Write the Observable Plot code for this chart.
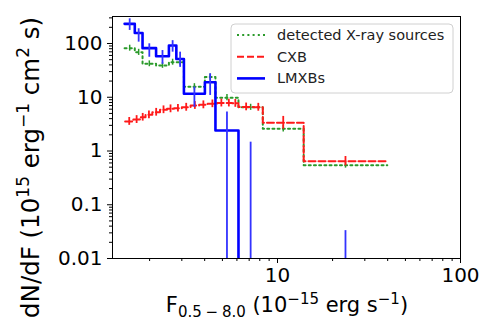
<!DOCTYPE html>
<html><head><meta charset="utf-8">
<script src="https://cdn.jsdelivr.net/npm/d3@7"></script>
<script src="https://cdn.jsdelivr.net/npm/@observablehq/plot@0.6"></script>
<style>body{margin:0;background:#fff;} svg{font-family:"DejaVu Sans";}</style>
</head><body><div id="chart"></div>
<script>
// Bin edges shared by LMXB and detected-source histograms (1e-15 erg/s)
const binEdges = [1.46, 1.66, 1.83, 2.17, 2.55, 2.80, 3.08, 4.01, 4.58, 6.12, 8.31, 13.9, 39.8];
const lmxbValues   = [232, 157, 82, 58, 92, 51.5, 11.6, 19, 2.4, 0, 0, 0];
const lmxbErrLow   = [175, 106, 55.5, 41, 69, 36, 6.5, 10.8, 0, 0, null, 0];
const lmxbErrHigh  = [288, 188, 98.7, 74, 113, 69, 15.5, 27.3, 5.3, 1.46, null, 0.033];
const detectedValues  = [82, 69, 42, 39, 45, 45, 15.6, 23.8, 9.8, 6.5, 2.6, 0.545];
const detectedErrLow  = [72, 60, 37, 34.5, 39.5, 39.5, 13.6, 20.8, 8.6, 5.7, 2.25, 0.48];
const detectedErrHigh = [93, 78, 47.5, 44, 51, 51, 17.9, 27.2, 11.2, 7.4, 3.0, 0.62];
// CXB model histogram (finer bins)
const cxbEdges  = [1.47, 1.63, 1.77, 1.90, 2.07, 2.28, 2.49, 2.72, 3.0, 3.35, 3.73, 4.15, 4.68, 5.2, 5.65, 6.12, 7.42, 8.31, 13.9, 39.8];
const cxbValues = [3.54, 3.86, 4.26, 4.71, 5.27, 5.84, 6.1, 6.25, 6.53, 7.03, 7.24, 7.55, 7.8, 7.8, 7.7, 6.6, 6.5, 3.35, 0.645];
const cxbErrLow  = [3.0, 3.25, 3.6, 4.0, 4.45, 4.95, 5.15, 5.3, 5.5, 5.95, 6.1, 6.4, 6.6, 6.6, 6.5, 5.6, 5.5, 2.55, 0.53];
const cxbErrHigh = [4.2, 4.55, 5.0, 5.55, 6.2, 6.9, 7.2, 7.35, 7.7, 8.3, 8.55, 8.9, 9.2, 9.2, 9.1, 7.8, 7.7, 4.4, 0.79];
// axis ticks
const xMajorTicks = [10, 100];
const xMinorTicks = [2, 3, 4, 5, 6, 7, 8, 9, 20, 30, 40, 50, 60, 70, 80, 90];
const yMajorTicks = [0.01, 0.1, 1, 10, 100];
const yMinorTicks = [0.02,0.03,0.04,0.05,0.06,0.07,0.08,0.09,0.2,0.3,0.4,0.5,0.6,0.7,0.8,0.9,2,3,4,5,6,7,8,9,20,30,40,50,60,70,80,90,200,300];
const legendLabels = ["detected X-ray sources", "CXB", "LMXBs"];

const floor = 1e-4; // zero counts fall below the log axis
const C = {det: "#2a9a2a", cxb: "#ff1a1a", lmxb: "#0000ff"};

function steps(edges, values) {
  const pts = values.map((v, i) => ({x: edges[i], y: v > 0 ? v : floor}));
  const last = values[values.length - 1];
  pts.push({x: edges[edges.length - 1], y: last > 0 ? last : floor});
  return pts;
}
function errs(edges, lo, hi) {
  const out = [];
  lo.forEach((l, i) => {
    if (l == null || hi[i] == null) return;
    out.push({x: Math.sqrt(edges[i] * edges[i + 1]), y1: l > 0 ? l : floor, y2: hi[i]});
  });
  return out;
}

const plot = Plot.plot({
  width: 485, height: 323,
  marginLeft: 112, marginRight: 25, marginTop: 16, marginBottom: 65,
  x: {type: "log", domain: [1.254, 100]},
  y: {type: "log", domain: [0.01, 318]},
  style: {fontFamily: "DejaVu Sans", fontSize: "20px", color: "black", background: "white"},
  marks: [
    Plot.axisX({ticks: xMajorTicks, tickFormat: d => String(d), tickSize: 5, tickPadding: 4, label: null, fontSize: 20}),
    Plot.axisX({ticks: xMinorTicks, tickFormat: () => "", tickSize: 3, label: null}),
    Plot.axisY({ticks: yMajorTicks, tickFormat: d => String(d), tickSize: 5, tickPadding: 5, label: null, fontSize: 20}),
    Plot.axisY({ticks: yMinorTicks, tickFormat: () => "", tickSize: 3, label: null}),
    Plot.line(steps(binEdges, detectedValues), {x: "x", y: "y", curve: "step-after", stroke: C.det, strokeWidth: 2, strokeDasharray: "2,3.2", clip: true}),
    Plot.ruleX(errs(binEdges, detectedErrLow, detectedErrHigh), {x: "x", y1: "y1", y2: "y2", stroke: C.det, strokeWidth: 1.5, clip: true}),
    Plot.line(steps(cxbEdges, cxbValues), {x: "x", y: "y", curve: "step-after", stroke: C.cxb, strokeWidth: 2, strokeDasharray: "7,3", clip: true}),
    Plot.ruleX(errs(cxbEdges, cxbErrLow, cxbErrHigh), {x: "x", y1: "y1", y2: "y2", stroke: C.cxb, strokeWidth: 1.8, clip: true}),
    Plot.line(steps(binEdges, lmxbValues), {x: "x", y: "y", curve: "step-after", stroke: C.lmxb, strokeWidth: 2.6, clip: true}),
    Plot.ruleX(errs(binEdges, lmxbErrLow, lmxbErrHigh), {x: "x", y1: "y1", y2: "y2", stroke: "#3333ff", strokeWidth: 1.8, clip: true}),
    Plot.frame({stroke: "black", strokeWidth: 1})
  ]
});

const svg = d3.select(plot);
// y label
const yl = svg.append("text").attr("transform", "translate(39,318) rotate(-90)")
  .attr("text-anchor", "start").attr("font-size", 24.5).attr("fill", "black");
yl.append("tspan").text("dN/dF (10");
yl.append("tspan").attr("font-size", 17).attr("dy", -10).text("15");
yl.append("tspan").attr("dy", 10).text(" erg");
yl.append("tspan").attr("font-size", 17).attr("dy", -10).text("\u22121");
yl.append("tspan").attr("dy", 10).text(" cm");
yl.append("tspan").attr("font-size", 17).attr("dy", -10).text("2");
yl.append("tspan").attr("dy", 10).text(" s)");
// x label
const xl = svg.append("text").attr("x", 287).attr("y", 312)
  .attr("text-anchor", "middle").attr("font-size", 21).attr("fill", "black");
xl.append("tspan").text("F");
xl.append("tspan").attr("font-size", 15).attr("dy", 5).text("0.5\u2005\u2212\u20058.0");
xl.append("tspan").attr("dy", -5).text(" (10");
xl.append("tspan").attr("font-size", 15).attr("dy", -8).text("\u221215");
xl.append("tspan").attr("dy", 8).text(" erg s");
xl.append("tspan").attr("font-size", 15).attr("dy", -8).text("\u22121");
xl.append("tspan").attr("dy", 8).text(")");
// legend
const lg = svg.append("g");
lg.append("rect").attr("x", 231).attr("y", 24).attr("width", 222).attr("height", 69).attr("rx", 4)
  .attr("fill", "white").attr("fill-opacity", 0.85).attr("stroke", "#d0d0d0");
const styles = [
  {stroke: C.det, w: 2, dash: "2,3.2"},
  {stroke: C.cxb, w: 2, dash: "7,3"},
  {stroke: C.lmxb, w: 2.6, dash: null}
];
legendLabels.forEach((t, i) => {
  const y = 35 + i * 21.7;
  lg.append("line").attr("x1", 237).attr("x2", 265).attr("y1", y).attr("y2", y)
    .attr("stroke", styles[i].stroke).attr("stroke-width", styles[i].w)
    .attr("stroke-dasharray", styles[i].dash);
  lg.append("text").attr("x", 277).attr("y", y).attr("dy", "0.35em").attr("text-anchor", "start")
    .attr("font-size", 14.5).attr("fill", "#222").text(t);
});
document.getElementById("chart").appendChild(plot);
</script>
</body></html>
